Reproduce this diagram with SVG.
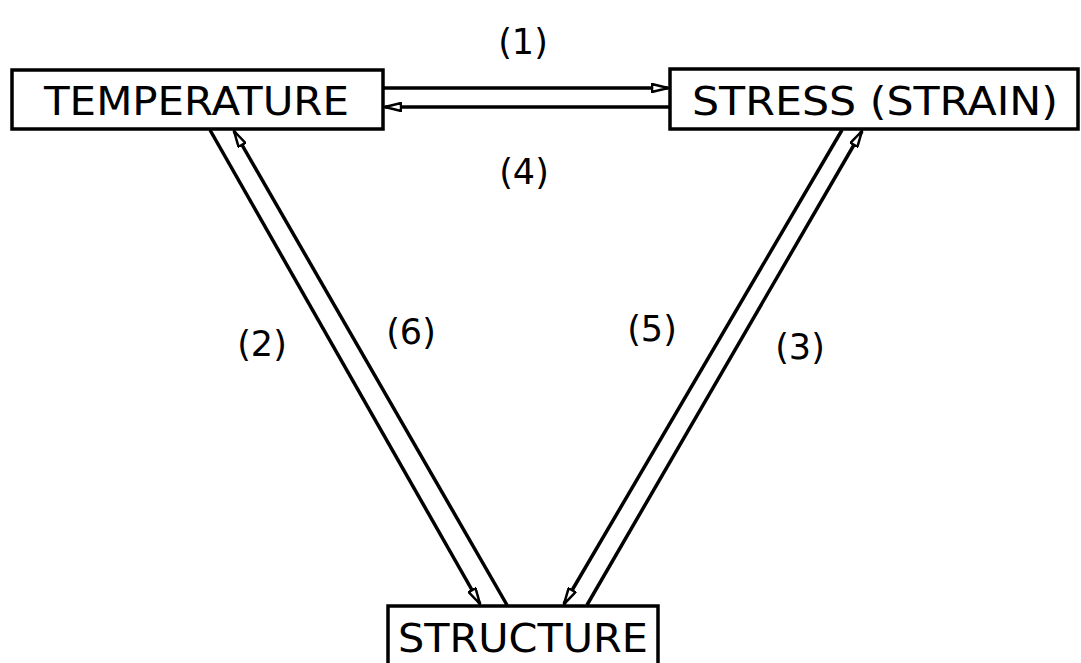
<svg xmlns="http://www.w3.org/2000/svg" width="1081" height="663" viewBox="0 0 1081 663">
<style>
.box{fill:#fff;stroke:#000;stroke-width:3.5}
.lbl{font-family:"DejaVu Sans",sans-serif;font-size:39px;fill:#000}
.num{font-family:"DejaVu Sans",sans-serif;font-size:35px;fill:#000}
.ln{stroke:#000;stroke-width:3.5;fill:none}
</style>
<defs>
<marker id="ah" viewBox="0 0 18 10" refX="17" refY="5" markerWidth="18" markerHeight="10" markerUnits="userSpaceOnUse" orient="auto">
<path d="M1,1 L17,5 L1,9 Z" fill="#fff" stroke="#000" stroke-width="2.5" stroke-linejoin="round"/>
</marker>
</defs>
<rect width="1081" height="663" fill="#fff"/>
<g id="connectors">
<line class="ln" x1="383" y1="88" x2="668" y2="88" marker-end="url(#ah)"/>
<line class="ln" x1="670" y1="107" x2="385" y2="107" marker-end="url(#ah)"/>
<line class="ln" x1="210" y1="130" x2="480" y2="604" marker-end="url(#ah)"/>
<line class="ln" x1="507" y1="605" x2="234" y2="131" marker-end="url(#ah)"/>
<line class="ln" x1="842" y1="130" x2="564" y2="604" marker-end="url(#ah)"/>
<line class="ln" x1="587" y1="605" x2="862" y2="131" marker-end="url(#ah)"/>
</g>
<g id="temperature">
<rect class="box" x="12" y="70" width="371" height="59"/>
<text class="lbl" x="44" y="115" textLength="305" lengthAdjust="spacingAndGlyphs">TEMPERATURE</text>
</g>
<g id="stress">
<rect class="box" x="670" y="69" width="408" height="60"/>
<text class="lbl" x="692" y="115" textLength="366" lengthAdjust="spacingAndGlyphs">STRESS (STRAIN)</text>
</g>
<g id="structure">
<rect class="box" x="388" y="606" width="270" height="62"/>
<text class="lbl" x="398" y="652" textLength="250" lengthAdjust="spacingAndGlyphs">STRUCTURE</text>
</g>
<g id="labels">
<text class="num" x="523" y="54" text-anchor="middle">(1)</text>
<text class="num" x="524" y="184" text-anchor="middle">(4)</text>
<text class="num" x="262" y="356" text-anchor="middle">(2)</text>
<text class="num" x="411" y="344" text-anchor="middle">(6)</text>
<text class="num" x="652" y="341" text-anchor="middle">(5)</text>
<text class="num" x="800" y="359" text-anchor="middle">(3)</text>
</g>
</svg>
